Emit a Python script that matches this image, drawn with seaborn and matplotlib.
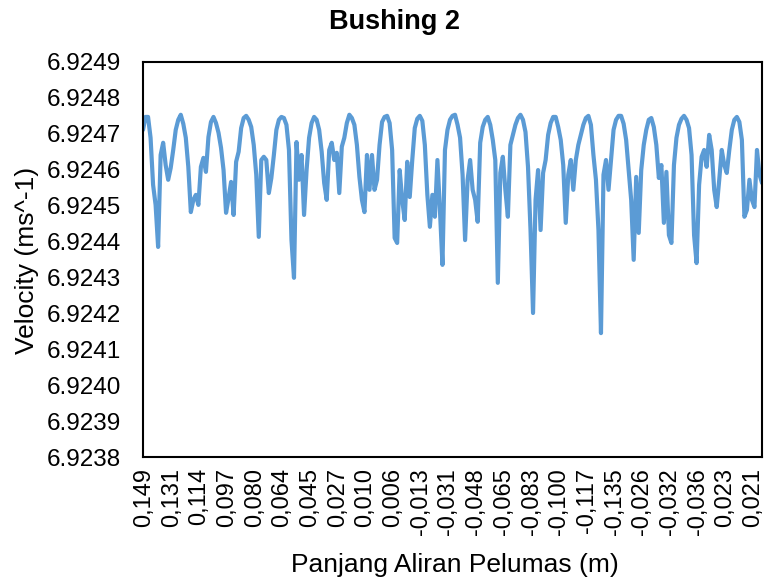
import matplotlib
matplotlib.use("Agg")
import matplotlib.pyplot as plt
from matplotlib.transforms import ScaledTranslation
import numpy as np
import pandas as pd
import seaborn as sns

# velocity, one value per category (left to right)
velocity = [
    6.924711, 6.924747, 6.924747, 6.924689, 6.924558, 6.924502, 6.924385, 6.924641, 6.924675, 6.924613,
    6.924572, 6.924605, 6.924655, 6.924711, 6.924739, 6.924753, 6.924728, 6.924689, 6.924608, 6.924482,
    6.924516, 6.924530, 6.924502, 6.924608, 6.924633, 6.924594, 6.924691, 6.924733, 6.924747, 6.924730,
    6.924703, 6.924661, 6.924599, 6.924480, 6.924521, 6.924566, 6.924474, 6.924622, 6.924650, 6.924716,
    6.924744, 6.924750, 6.924739, 6.924719, 6.924669, 6.924586, 6.924413, 6.924627, 6.924636, 6.924627,
    6.924535, 6.924577, 6.924641, 6.924711, 6.924739, 6.924747, 6.924744, 6.924725, 6.924655, 6.924404,
    6.924299, 6.924677, 6.924572, 6.924641, 6.924474, 6.924599, 6.924689, 6.924730, 6.924747, 6.924739,
    6.924711, 6.924650, 6.924563, 6.924516, 6.924655, 6.924675, 6.924627, 6.924647, 6.924535, 6.924664,
    6.924689, 6.924730, 6.924753, 6.924744, 6.924725, 6.924669, 6.924580, 6.924516, 6.924482, 6.924641,
    6.924544, 6.924641, 6.924544, 6.924572, 6.924669, 6.924733, 6.924747, 6.924750, 6.924730, 6.924655,
    6.924410, 6.924396, 6.924599, 6.924516, 6.924460, 6.924622, 6.924524, 6.924627, 6.924716, 6.924742,
    6.924750, 6.924736, 6.924669, 6.924530, 6.924441, 6.924530, 6.924469, 6.924627, 6.924488, 6.924335,
    6.924655, 6.924711, 6.924739, 6.924750, 6.924753, 6.924725, 6.924689, 6.924586, 6.924404, 6.924572,
    6.924627, 6.924544, 6.924516, 6.924455, 6.924675, 6.924719, 6.924739, 6.924747, 6.924725, 6.924683,
    6.924627, 6.924285, 6.924591, 6.924636, 6.924544, 6.924469, 6.924669, 6.924697, 6.924725, 6.924744,
    6.924753, 6.924739, 6.924705, 6.924608, 6.924432, 6.924201, 6.924516, 6.924599, 6.924432, 6.924591,
    6.924627, 6.924697, 6.924730, 6.924747, 6.924747, 6.924719, 6.924683, 6.924613, 6.924452, 6.924586,
    6.924627, 6.924544, 6.924627, 6.924669, 6.924697, 6.924725, 6.924744, 6.924750, 6.924725, 6.924641,
    6.924572, 6.924432, 6.924145, 6.924586, 6.924627, 6.924544, 6.924627, 6.924711, 6.924739, 6.924750,
    6.924750, 6.924728, 6.924683, 6.924599, 6.924516, 6.924349, 6.924580, 6.924424, 6.924599, 6.924669,
    6.924711, 6.924739, 6.924744, 6.924719, 6.924669, 6.924577, 6.924613, 6.924452, 6.924594, 6.924418,
    6.924396, 6.924613, 6.924689, 6.924725, 6.924742, 6.924750, 6.924739, 6.924716, 6.924641, 6.924418,
    6.924340, 6.924558, 6.924636, 6.924655, 6.924608, 6.924697, 6.924655, 6.924544, 6.924496, 6.924572,
    6.924655, 6.924613, 6.924591, 6.924655, 6.924711, 6.924739, 6.924747, 6.924733, 6.924683, 6.924469,
    6.924488, 6.924572, 6.924516, 6.924496, 6.924655, 6.924586, 6.924563,
]

# category labels shown on the x axis (every 11th point)
x_labels = ["0,149", "0,131", "0,114", "0,097", "0,080", "0,064", "0,045", "0,027",
            "0,010", "0,006", "-0,013", "-0,031", "-0,048", "-0,065", "-0,083", "-0,100",
            "-0,117", "-0,135", "-0,026", "-0,032", "-0,036", "0,023", "0,021"]
label_step = 11

y_ticks = np.round(np.arange(6.9238, 6.92491, 0.0001), 4)

df = pd.DataFrame({"idx": np.arange(len(velocity)), "velocity": velocity})

sns.set_style("white")
plt.rcParams["font.family"] = ["Liberation Sans", "DejaVu Sans"]
plt.rcParams["text.color"] = "black"

fig = plt.figure(figsize=(7.64, 5.83), dpi=100)
ax = fig.add_axes([0.1872, 0.2161, 0.8102, 0.6776])

sns.lineplot(data=df, x="idx", y="velocity", ax=ax, color="#5B9BD5", linewidth=3)

ax.set_xlim(0, len(velocity) - 1)
ax.set_ylim(6.9238, 6.9249)
ax.set_yticks(y_ticks)
ax.set_yticklabels([f"{v:.4f}" for v in y_ticks], fontsize=17.5, color="black")
ax.set_xticks(np.arange(len(x_labels)) * label_step)
ax.set_xticklabels(x_labels, rotation=90, fontsize=17, color="black")
ax.tick_params(axis="y", length=0, pad=16)
ax.tick_params(axis="x", length=0, pad=8)

# small nudge right, like Excel's rotated category labels
shift = ScaledTranslation(1 / 100, 0, fig.dpi_scale_trans)
for lbl in ax.get_xticklabels():
    lbl.set_transform(lbl.get_transform() + shift)

for sp in ax.spines.values():
    sp.set_color("black")
    sp.set_linewidth(1.5)

ax.set_xlabel("")
ax.set_ylabel("")
fig.text(0.5955, 0.031, "Panjang Aliran Pelumas (m)", ha="center", va="center", fontsize=19)
fig.text(0.0353, 0.554, "Velocity (ms^-1)", ha="center", va="center", rotation=90, fontsize=19)
fig.text(0.517, 0.962, "Bushing 2", ha="center", va="center", fontsize=19.5, fontweight="bold")

fig.savefig("out.png", dpi=100)
